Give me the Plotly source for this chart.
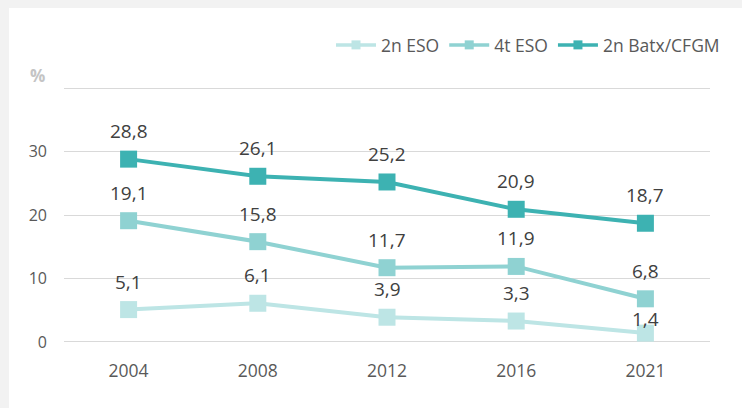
import plotly.graph_objects as go

years = ["2004", "2008", "2012", "2016", "2021"]
series_names = ["2n ESO", "4t ESO", "2n Batx/CFGM"]
eso2 = [5.1, 6.1, 3.9, 3.3, 1.4]
eso4 = [19.1, 15.8, 11.7, 11.9, 6.8]
batx = [28.8, 26.1, 25.2, 20.9, 18.7]
y_ticks = [0, 10, 20, 30, 40]
y_ticktext = ["0", "10", "20", "30", ""]

colors = ["#bde5e5", "#8fd2d2", "#3db2b2"]
values = [eso2, eso4, batx]

W, H = 742, 408
L, R, T, B = 64, 32, 87, 65
pw, ph = W - L - R, H - T - B

def px_x(p):
    return (p - L) / pw

def px_y(p):
    return (H - B - p) / ph

fig = go.Figure()
for name, vals, col in zip(series_names, values, colors):
    fig.add_trace(go.Scatter(
        x=years, y=vals, mode="lines+markers", name=name,
        line=dict(color=col, width=4),
        marker=dict(symbol="square", size=17, color=col),
        showlegend=False, cliponaxis=False,
    ))
for name, col in zip(series_names, colors):
    fig.add_trace(go.Scatter(
        x=[None], y=[None], mode="lines+markers", name=name,
        line=dict(color=col, width=3.5),
        marker=dict(symbol="square", size=9, color=col),
        showlegend=True,
    ))

def fmt(v):
    return f"{v:.1f}".replace(".", ",")

annotations = []
for vals in values:
    for i, v in enumerate(vals):
        shift = 28
        if vals is eso2 and i == len(vals) - 1:
            shift = 14
        annotations.append(dict(
            x=i, y=v, text=fmt(v), showarrow=False, yshift=shift,
            xanchor="center", yanchor="middle",
            font=dict(size=19, color="#404040"), xref="x", yref="y",
        ))
annotations.append(dict(
    x=px_x(37), y=px_y(75), xref="paper", yref="paper", text="<b>%</b>",
    xanchor="center", yanchor="middle",
    showarrow=False, font=dict(size=17, color="#c4c4c4"),
))

shapes = [
    dict(type="rect", xref="paper", yref="paper", x0=px_x(9), x1=px_x(760),
         y0=px_y(420), y1=px_y(8), fillcolor="white", line=dict(width=0), layer="below"),
]

fig.update_layout(
    width=W, height=H,
    margin=dict(l=L, r=R, t=T, b=B),
    paper_bgcolor="#f2f2f2", plot_bgcolor="rgba(0,0,0,0)",
    font=dict(family="Open Sans, sans-serif", color="#595959"),
    annotations=annotations, shapes=shapes,
    legend=dict(orientation="h", x=px_x(725), xanchor="right", y=px_y(45),
                yanchor="middle", font=dict(size=17.5, color="#595959"),
                bgcolor="rgba(0,0,0,0)", itemwidth=40, tracegroupgap=0),
    xaxis=dict(type="category", range=[-0.5, 4.5], showgrid=False, showline=False,
               zeroline=False, tickfont=dict(size=17.5, color="#595959"),
               ticks="", ticklabelstandoff=15),
    yaxis=dict(range=[-0.16, 40.16], tickvals=y_ticks, ticktext=y_ticktext,
               showgrid=True, gridcolor="#d9d9d9", gridwidth=1, zeroline=False,
               showline=False, tickfont=dict(size=16, color="#595959"),
               ticks="", ticklabelstandoff=16),
)

fig.write_html("out.html", config={"displayModeBar": False},
               post_script="document.body.style.margin='0';")
